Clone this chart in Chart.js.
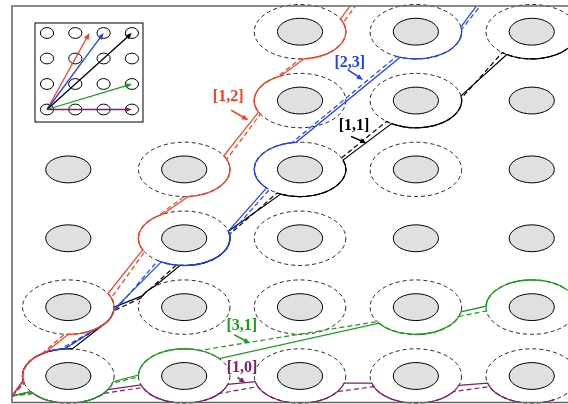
<!DOCTYPE html>
<html>
<head>
<meta charset="utf-8">
<script src="https://cdn.jsdelivr.net/npm/chart.js@4.4.1/dist/chart.umd.min.js"></script>
<style>
  html, body { margin: 0; padding: 0; background: #fff; }
  #wrap { width: 568px; height: 404px; }
</style>
</head>
<body>
<div id="wrap"><canvas id="c"></canvas></div>
<script>
// obstacle lattice, [col, row, ring drawn]
var obstacles = [
  [0,0,1],[1,0,1],[2,0,1],[3,0,1],[4,0,1],
  [0,1,1],[1,1,1],[2,1,1],[3,1,1],[4,1,1],
  [0,2,0],[1,2,1],[2,2,1],[3,2,0],[4,2,0],
  [0,3,0],[1,3,1],[2,3,1],[3,3,1],[4,3,0],
  [2,4,1],[3,4,1],[4,4,0],
  [2,5,1],[3,5,1],[4,5,1]
];
var coreRadius = 0.195;
var ringRadius = 0.395;
var start = [-0.486, -0.29];

var lockNames = ['[1,0]', '[3,1]', '[1,1]', '[2,3]', '[1,2]'];
var lockDirs = [[1,0], [3,1], [1,1], [2,3], [1,2]];

// trajectories: arcs along rings as [col, row, fromDeg, toDeg]
var path10    = [[0,0,215,330],[1,0,199,342],[2,0,192,345],[3,0,195,340],[4,0,195,300]];
var path10sim = [[0,0,220,320],[1,0,205,320],[2,0,203,325],[3,0,203,325],[4,0,203,300]];
var path31    = [[0,0,215,348],[1,0,178,40],[3,1,216,350],[4,1,178,40]];
var path31sim = [[0,0,220,345],[1,0,182,70],[3,1,212,340],[4,1,188,45]];
var path11    = [[0,0,190,85],[0,1,-35,0],[1,1,155,130],[1,2,-95,15],[2,3,245,380],[3,4,238,370],[4,5,237,340]];
var path11sim = [[0,0,195,95],[0,1,-45,-8],[1,1,160,138],[1,2,-100,8],[2,3,240,385],[3,4,230,365],[4,5,230,340]];
var path23    = [[0,0,190,95],[0,1,-40,-5],[1,2,240,375],[2,3,223,95],[3,5,-110,10]];
var path23sim = [[0,0,195,100],[0,1,-50,-12],[1,2,235,368],[2,3,228,100],[3,5,-115,5]];
var path12    = [[0,0,190,120],[0,1,-90,30],[1,2,205,118],[1,3,-85,30],[2,4,205,115],[2,5,-85,28]];
var path12sim = [[0,0,195,125],[0,1,-95,20],[1,2,210,125],[1,3,-90,22],[2,4,210,120],[2,5,-90,20]];
var pathEnds    = { '[2,3]': [3.6, 5.55], '[1,2]': [2.55, 5.64] };
var pathEndsSim = { '[2,3]': [3.64, 5.55], '[1,2]': [2.6, 5.64] };

var colors = { '[1,0]': '#7f1f6d', '[3,1]': '#169e16', '[1,1]': '#000000', '[2,3]': '#2040ff', '[1,2]': '#ff3a1c' };
var paths = [
  ['[1,0]', path10, path10sim],
  ['[3,1]', path31, path31sim],
  ['[1,1]', path11, path11sim],
  ['[2,3]', path23, path23sim],
  ['[1,2]', path12, path12sim]
];

// label text centre and arrow (data units)
var labelSpots = {
  '[1,2]': [1.38, 4.06, 1.405, 3.86, 1.555, 3.715],
  '[2,3]': [2.43, 4.55, 2.41, 4.45, 2.545, 4.3],
  '[1,1]': [2.466, 3.63, 2.44, 3.48, 2.575, 3.38],
  '[3,1]': [1.497, 0.73, 1.43, 0.6, 1.57, 0.475],
  '[1,0]': [1.5, 0.12, 1.46, -0.02, 1.53, -0.105]
};

function arrow(ctx, x0, y0, x1, y1, color, head, lw) {
  var a = Math.atan2(y1 - y0, x1 - x0);
  ctx.setLineDash([]);
  ctx.strokeStyle = color;
  ctx.fillStyle = color;
  ctx.lineWidth = lw;
  ctx.beginPath();
  ctx.moveTo(x0, y0);
  ctx.lineTo(x1 - head * 0.7 * Math.cos(a), y1 - head * 0.7 * Math.sin(a));
  ctx.stroke();
  ctx.beginPath();
  ctx.moveTo(x1, y1);
  ctx.lineTo(x1 - head * Math.cos(a - 0.38), y1 - head * Math.sin(a - 0.38));
  ctx.lineTo(x1 - head * Math.cos(a + 0.38), y1 - head * Math.sin(a + 0.38));
  ctx.closePath();
  ctx.fill();
}

var sketch = {
  id: 'sketch',
  afterDatasetsDraw: function(chart) {
    var ctx = chart.ctx, sx = chart.scales.x, sy = chart.scales.y, area = chart.chartArea;
    function X(v) { return sx.getPixelForValue(v); }
    function Y(v) { return sy.getPixelForValue(v); }
    function ell(i, j, r) {
      ctx.beginPath();
      ctx.ellipse(X(i), Y(j), X(i + r) - X(i), Y(j) - Y(j + r), 0, 0, Math.PI * 2);
    }
    ctx.save();

    // rings
    obstacles.forEach(function(o) {
      if (!o[2]) return;
      ell(o[0], o[1], ringRadius);
      ctx.fillStyle = '#fff';
      ctx.fill();
      ctx.setLineDash([4, 3]);
      ctx.strokeStyle = '#222';
      ctx.lineWidth = 1;
      ctx.stroke();
    });

    // trajectories
    ctx.save();
    ctx.beginPath();
    ctx.rect(area.left, area.top, area.right - area.left, area.bottom - area.top);
    ctx.clip();
    function trace(arcs, end, dash) {
      ctx.setLineDash(dash);
      ctx.beginPath();
      ctx.moveTo(X(start[0]), Y(start[1]));
      arcs.forEach(function(a) {
        var cx = X(a[0]), cy = Y(a[1]);
        var rx = X(a[0] + ringRadius) - cx, ry = cy - Y(a[1] + ringRadius);
        ctx.ellipse(cx, cy, rx, ry, 0, -a[2] * Math.PI / 180, -a[3] * Math.PI / 180, a[3] > a[2]);
      });
      if (end) ctx.lineTo(X(end[0]), Y(end[1]));
      ctx.stroke();
    }
    paths.forEach(function(p) {
      ctx.strokeStyle = colors[p[0]];
      ctx.lineWidth = 1.2;
      trace(p[2], pathEndsSim[p[0]], [5, 3]);
      trace(p[1], pathEnds[p[0]], []);
    });
    ctx.restore();

    // obstacle cores
    ctx.setLineDash([]);
    obstacles.forEach(function(o) {
      ell(o[0], o[1], coreRadius);
      ctx.fillStyle = '#e0e0e0';
      ctx.fill();
      ctx.strokeStyle = '#000';
      ctx.lineWidth = 1;
      ctx.stroke();
    });

    // frame (left, top, bottom)
    ctx.strokeStyle = '#666';
    ctx.lineWidth = 1.6;
    ctx.beginPath();
    ctx.moveTo(area.right, area.top);
    ctx.lineTo(area.left, area.top);
    ctx.lineTo(area.left, area.bottom);
    ctx.lineTo(area.right, area.bottom);
    ctx.stroke();

    // labels
    ctx.font = 'bold 16px "Liberation Serif", "Times New Roman", serif';
    ctx.textAlign = 'center';
    ctx.textBaseline = 'middle';
    lockNames.forEach(function(n) {
      var s = labelSpots[n];
      ctx.fillStyle = colors[n];
      ctx.fillText(n, X(s[0]), Y(s[1]));
      arrow(ctx, X(s[2]), Y(s[3]), X(s[4]), Y(s[5]), colors[n], 7, 1.5);
    });

    // inset: lattice and lock directions
    var bx = 35, by = 23, bw = 108, bh = 99, ox = 47, oy = 109.5, dx = 28.3, dy = 25.5;
    ctx.fillStyle = '#fff';
    ctx.fillRect(bx, by, bw, bh);
    ctx.strokeStyle = '#000';
    ctx.lineWidth = 1;
    ctx.strokeRect(bx, by, bw, bh);
    for (var i = 0; i < 4; i++) {
      for (var j = 0; j < 4; j++) {
        ctx.beginPath();
        ctx.ellipse(ox + i * dx, oy - j * dy, 6.6, 5.4, 0, 0, Math.PI * 2);
        ctx.fillStyle = '#fff';
        ctx.fill();
        ctx.strokeStyle = '#000';
        ctx.lineWidth = 1;
        ctx.stroke();
      }
    }
    [4, 3, 2, 1, 0].forEach(function(k) {
      var d = lockDirs[k], s = 3 / Math.max(d[0], d[1]);
      arrow(ctx, ox, oy, ox + s * d[0] * dx, oy - s * d[1] * dy, colors[lockNames[k]], 7, 1.3);
    });

    ctx.restore();
  }
};

new Chart(document.getElementById('c'), {
  type: 'scatter',
  data: {
    datasets: [{
      label: 'obstacles',
      data: obstacles.map(function(o) { return { x: o[0], y: o[1] }; }),
      pointRadius: 0
    }]
  },
  options: {
    responsive: true,
    maintainAspectRatio: false,
    animation: false,
    layout: { padding: { left: 12, top: 6, right: 0, bottom: 1.5 } },
    plugins: { legend: { display: false }, tooltip: { enabled: false } },
    scales: {
      x: { type: 'linear', min: -0.486, max: 4.313, display: false },
      y: { type: 'linear', min: -0.385, max: 5.373, display: false }
    }
  },
  plugins: [sketch]
});
</script>
</body>
</html>
